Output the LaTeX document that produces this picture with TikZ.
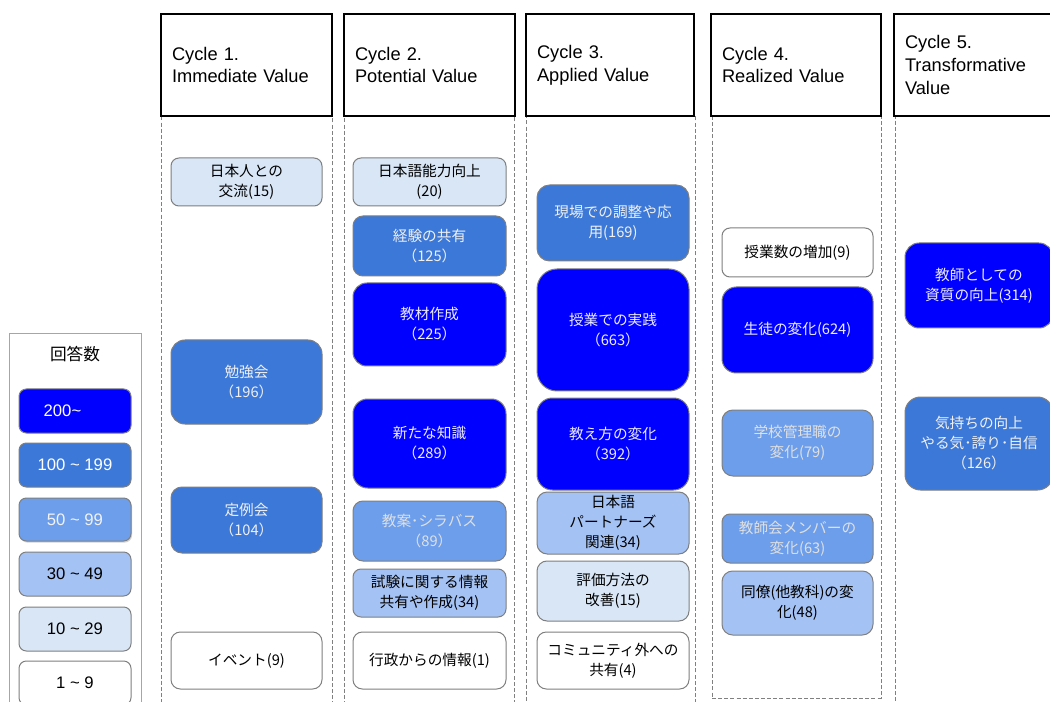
\documentclass[tikz,border=0pt]{standalone}
\usepackage{fontspec}
\setmainfont{Liberation Sans}
\newfontfamily\jp{Noto Sans CJK JP}
\usetikzlibrary{shadows}
\definecolor{cblue}{HTML}{0000FF}
\definecolor{cmid}{HTML}{3C78D8}
\definecolor{cfifty}{HTML}{6D9EEB}
\definecolor{cthirty}{HTML}{A4C2F4}
\definecolor{clight}{HTML}{D8E6F6}
\definecolor{bord}{HTML}{7F7F7F}
\definecolor{dashgray}{HTML}{808080}
\tikzset{
  boxbase/.style={draw=bord, line width=0.75pt, align=center, inner sep=1pt,
    font=\jp\fontsize{11}{15}\selectfont},
  lvblue/.style={boxbase, fill=cblue, text=white!92!blue},
  lvmid/.style={boxbase, fill=cmid, text=white!94!black},
  lvfifty/.style={boxbase, fill=cfifty, text=white!88!black},
  lvthirty/.style={boxbase, fill=cthirty, text=black},
  lvlight/.style={boxbase, fill=clight, text=black},
  lvwhite/.style={boxbase, fill=white, text=black},
  headbox/.style={draw=black, line width=1.8pt, fill=white, align=left,
    font=\fontsize{13.7}{17}\selectfont, inner sep=0pt},
  colbox/.style={draw=dashgray, line width=0.6pt, dash pattern=on 3pt off 1.6pt, inner sep=0pt},
  legtext/.style={font=\fontsize{12.5}{15}\selectfont}
}
% name, x1, y1, x2, y2, style, radius(pt), text
\newcommand{\bx}[8]{\node[#6, rounded corners=#7pt,
  minimum width={(#4-#2)*0.75pt}, minimum height={(#5-#3)*0.75pt}]
  (#1) at ({(#2+#4)/2},{(#3+#5)/2}) {#8};}
% name, x1, x2, text
\newcommand{\hd}[4]{\node[headbox, minimum width={(#3-#2)*0.75pt}, minimum height={102*0.75pt},
  text width={(#3-#2-22)*0.75pt}] (#1) at ({(#2+#3)/2},65) {#4};}
% name, x1, x2, ybottom
\newcommand{\col}[4]{\node[colbox, minimum width={(#3-#2)*0.75pt}, minimum height={(#4-116)*0.75pt}]
  (#1) at ({(#2+#3)/2},{(116+#4)/2}) {};}
\begin{document}
\begin{tikzpicture}[x=0.75pt,y=-0.75pt]
\useasboundingbox (0,0) rectangle (1050,702);
\clip (0,0) rectangle (1050,702);
\fill[white] (0,0) rectangle (1050,702);

% columns
\col{col1}{161}{332}{712}
\col{col2}{344}{514}{712}
\col{col3}{526}{695}{712}
\col{col4}{712}{881}{698}
\col{col5}{895}{1070}{712}

% headers
\hd{h1}{161}{332}{Cycle 1.\\Immediate Value}
\hd{h2}{344}{515}{Cycle 2.\\Potential Value}
\hd{h3}{526}{694}{Cycle 3.\\Applied Value}
\hd{h4}{711}{881}{Cycle 4.\\Realized Value}
\hd{h5}{894}{1064}{Cycle 5.\\Transformative\\Value}

% column 1
\bx{a1}{171}{158}{322}{206}{lvlight}{6}{日本人との\\交流(15)}
\bx{a2}{171}{340}{322}{424}{lvmid}{10.5}{勉強会\\（196）}
\bx{a3}{171}{487}{322}{553}{lvmid}{8.2}{定例会\\（104）}
\bx{a4}{171}{632}{322}{689}{lvwhite}{7}{イベント(9)}

% column 2
\bx{b1}{353}{158}{506}{206}{lvlight}{6}{日本語能力向上\\(20)}
\bx{b2}{353}{216}{506}{276}{lvmid}{7.5}{経験の共有\\（125）}
\bx{b3}{353}{283}{506}{366}{lvblue}{10.4}{教材作成\\（225）}
\bx{b4}{353}{399}{506}{488}{lvblue}{11}{新たな知識\\（289）}
\bx{b5}{353}{501}{506}{561}{lvfifty}{7.5}{教案･シラバス\\（89）}
\bx{b6}{353}{569}{506}{617}{lvthirty}{6}{試験に関する情報\\共有や作成(34)}
\bx{b7}{353}{632}{506}{689}{lvwhite}{7}{行政からの情報(1)}

% column 3
\bx{c1}{537}{185}{689}{261}{lvmid}{9.5}{現場での調整や応\\用(169)}
\bx{c2}{537}{269}{689}{391}{lvblue}{15}{授業での実践\\（663）}
\bx{c3}{537}{398}{689}{490}{lvblue}{11.5}{教え方の変化\\（392）}
\bx{c4}{537}{492}{689}{554}{lvthirty}{7.7}{日本語\\パートナーズ\\関連(34)}
\bx{c5}{537}{561}{689}{621}{lvlight}{7.5}{評価方法の\\改善(15)}
\bx{c6}{537}{632}{689}{689}{lvwhite}{7}{コミュニティ外への\\共有(4)}

% column 4
\bx{d1}{722}{228}{873}{277}{lvwhite}{6}{授業数の増加(9)}
\bx{d2}{722}{287}{873}{373}{lvblue}{10.7}{生徒の変化(624)}
\bx{d3}{722}{410}{873}{476}{lvfifty}{8.2}{学校管理職の\\変化(79)}
\bx{d4}{722}{514}{873}{563}{lvfifty}{6}{教師会メンバーの\\変化(63)}
\bx{d5}{722}{571}{873}{635}{lvthirty}{8}{同僚(他教科)の変\\化(48)}

% column 5
\bx{e1}{905}{243}{1053}{328}{lvblue}{10.6}{教師としての\\資質の向上(314)}
\bx{e2}{905}{397}{1053}{490}{lvmid}{11.6}{気持ちの向上\\やる気･誇り･自信\\（126）}

% legend
\node[draw=gray!70, line width=0.6pt, minimum width={132*0.75pt}, minimum height={400*0.75pt}, inner sep=0pt]
  (legframe) at (75,533) {};
\node[font=\jp\fontsize{12.5}{15}\selectfont] (legtitle) at (75,354) {回答数};
\bx{l1}{19}{389}{131}{433}{lvblue}{5.5}{}
\node[legtext, text=white, anchor=west] (l1t) at (39,411) {200\textasciitilde};
\bx{l2}{19}{443}{131}{487}{lvmid}{5.5}{}
\node[legtext, text=white] (l2t) at (l2) {100 \textasciitilde\ 199};
\bx{l3}{19}{498}{131}{541}{lvfifty, drop shadow={opacity=0.35, shadow xshift=0.8pt, shadow yshift=-1.2pt}}{5.5}{}
\node[legtext, text=white!95!black] (l3t) at (l3) {50 \textasciitilde\ 99};
\bx{l4}{19}{552}{131}{596}{lvthirty}{5.5}{}
\node[legtext] (l4t) at (l4) {30 \textasciitilde\ 49};
\bx{l5}{19}{607}{131}{651}{lvlight}{5.5}{}
\node[legtext] (l5t) at (l5) {10 \textasciitilde\ 29};
\bx{l6}{19}{661}{131}{705}{lvwhite}{5.5}{}
\node[legtext] (l6t) at (l6) {1 \textasciitilde\ 9};
\end{tikzpicture}
\end{document}
